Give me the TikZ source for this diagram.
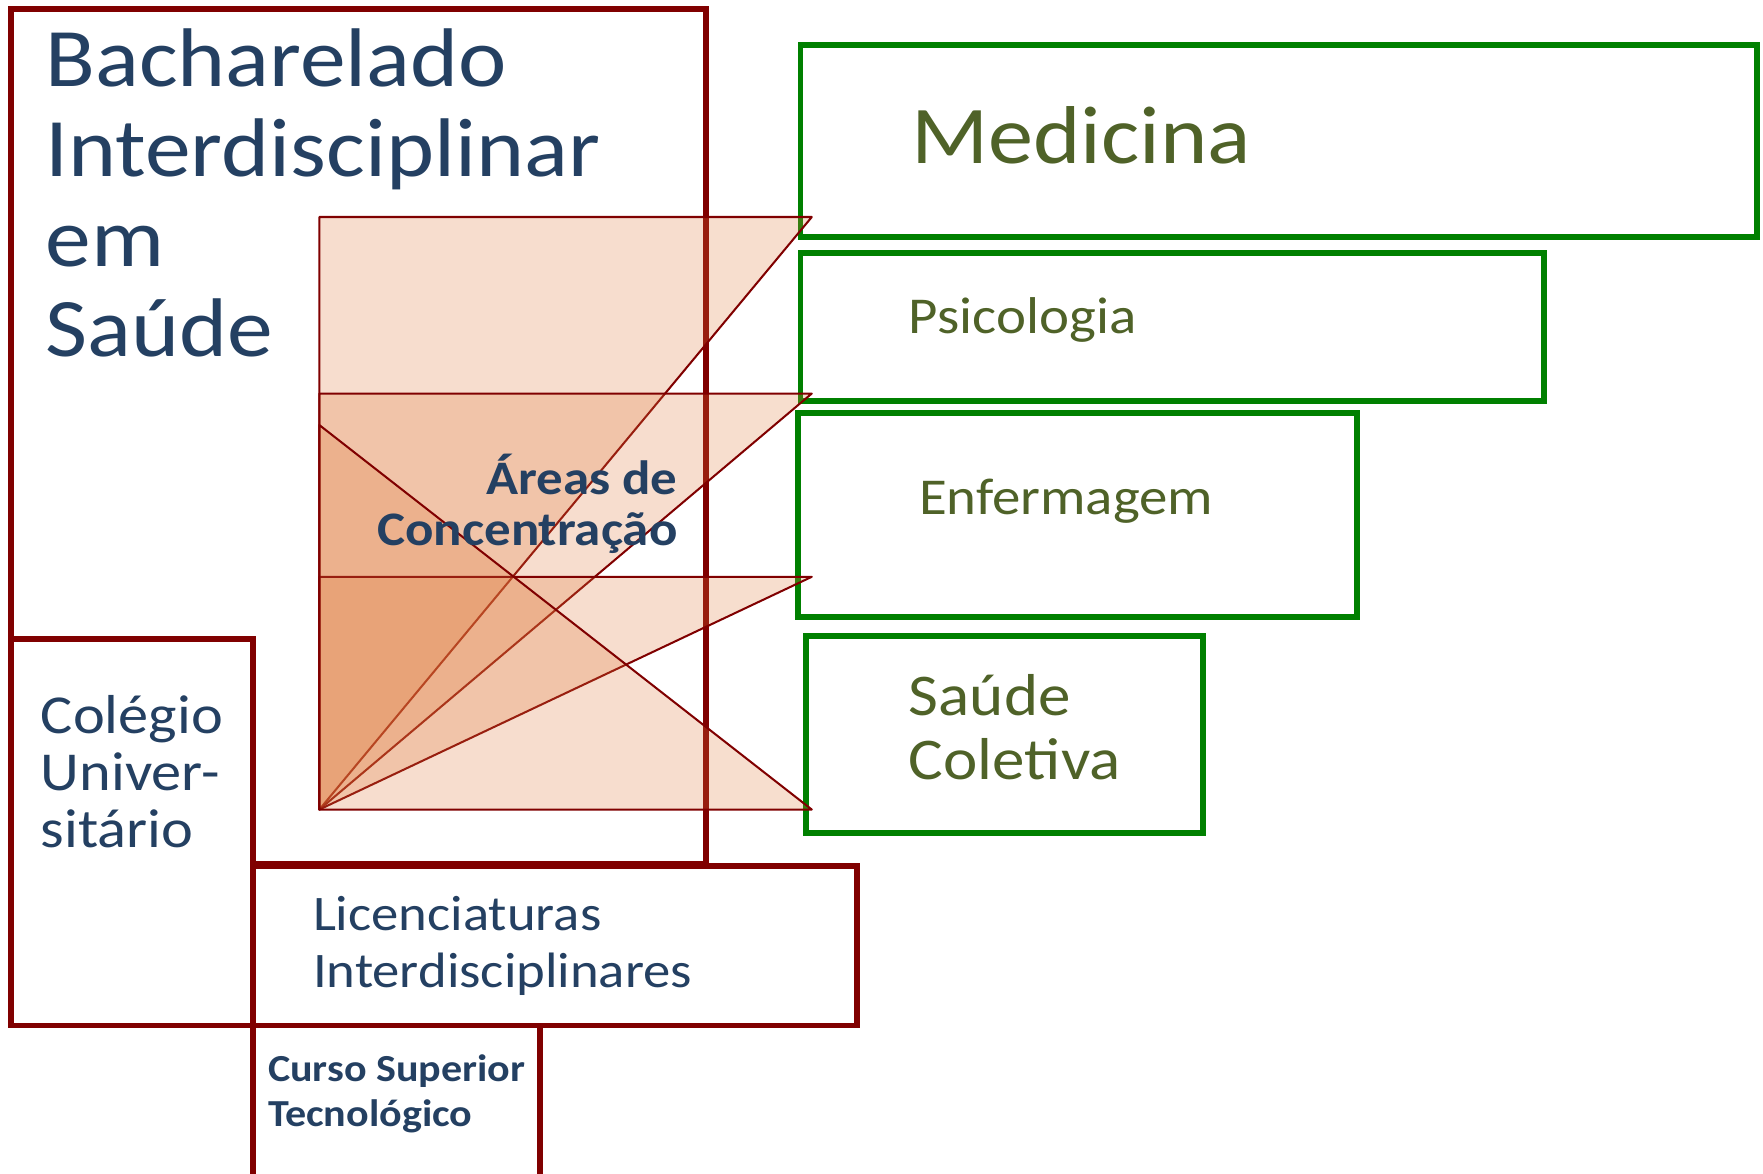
\documentclass[tikz,border=0pt]{standalone}
\usepackage{fontspec}
\setmainfont{Carlito}[FakeStretch=1.1]
\definecolor{dred}{RGB}{128,0,0}
\definecolor{gbox}{RGB}{0,128,0}
\definecolor{dblue}{RGB}{36,64,98}
\definecolor{gtext}{RGB}{79,98,40}
\definecolor{trifill}{RGB}{224,122,60}
\tikzset{
  redbox/.style={draw=dred, line width=2.6pt, fill=white},
  greenbox/.style={draw=gbox, line width=2.6pt},
  tri/.style={fill=trifill, fill opacity=0.25, draw=dred, line width=0.9pt, line join=round},
  btext/.style={text=dblue, inner sep=0pt, align=left, anchor=base west},
  gtxt/.style={text=gtext, inner sep=0pt, align=left, anchor=base west},
}
\begin{document}
\begin{tikzpicture}[x=0.5pt,y=-0.5pt]
\useasboundingbox (0,0) rectangle (1568,1044);
\begin{scope}
\clip (0,0) rectangle (1568,1044);
% red boxes
\draw[redbox] (10,8) rectangle (628,768);
\draw[redbox] (10,568) rectangle (225,912);
\draw[redbox] (225,770) rectangle (762,912);
\draw[redbox] (225,912) rectangle (480,1060);
% green boxes
\draw[greenbox] (712,40) rectangle (1563,211);
\draw[greenbox] (712,225) rectangle (1373,357);
\draw[greenbox] (710,367) rectangle (1207,549);
\draw[greenbox] (717,566) rectangle (1070,741);
% fan of triangles
\coordinate (V) at (284,720);
\filldraw[tri] (284,193) -- (722,193) -- (V) -- cycle;
\filldraw[tri] (284,350) -- (722,350) -- (V) -- cycle;
\filldraw[tri] (284,513) -- (722,513) -- (V) -- cycle;
\filldraw[tri] (284,378) -- (722,720) -- (V) -- cycle;
\end{scope}
% texts (base anchor = baseline of last line)
\node[btext, font=\fontsize{37}{40}\selectfont] (bach) at (40,317) {Bacharelado\\Interdisciplinar\\em\\Saúde};
\node[gtxt, font=\fontsize{36.5}{40}\selectfont] (med) at (810,145) {Medicina};
\node[gtxt, font=\fontsize{23}{26}\selectfont] (psi) at (808,297) {Psicologia};
\node[gtxt, font=\fontsize{23}{26}\selectfont] (enf) at (817,458) {Enfermagem};
\node[gtxt, font=\fontsize{26.3}{28.5}\selectfont] (sc) at (808,693) {Saúde\\Coletiva};
\node[text=dblue, inner sep=0pt, align=right, anchor=base east, font=\bfseries\fontsize{21.4}{22.5}\selectfont] (areas) at (603,485) {Áreas de\\Concentração};
\node[btext, font=\fontsize{24.4}{25.5}\selectfont] (col) at (36,754) {Colégio\\Univer-\\sitário};
\node[btext, font=\fontsize{22.1}{25}\selectfont] (lic) at (278,878) {Licenciaturas\\Interdisciplinares};
\node[btext, font=\bfseries\fontsize{17}{20}\selectfont] (cst) at (238,1002) {Curso Superior\\Tecnológico};
\end{tikzpicture}
\end{document}
